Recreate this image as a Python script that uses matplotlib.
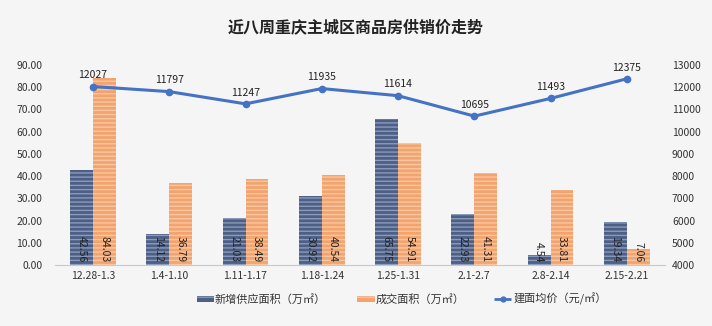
import matplotlib
matplotlib.use("Agg")
import matplotlib.pyplot as plt
import numpy as np
from matplotlib.lines import Line2D
from matplotlib.patches import Rectangle

plt.rcParams['font.family'] = ['Noto Sans CJK SC', 'DejaVu Sans']
plt.rcParams['hatch.linewidth'] = 1.0

categories = ["12.28-1.3", "1.4-1.10", "1.11-1.17", "1.18-1.24", "1.25-1.31", "2.1-2.7", "2.8-2.14", "2.15-2.21"]
supply = [42.56, 14.12, 21.03, 30.92, 65.75, 22.93, 4.54, 19.34]
deals = [84.03, 36.79, 38.49, 40.54, 54.91, 41.31, 33.81, 7.06]
price = [12027, 11797, 11247, 11935, 11614, 10695, 11493, 12375]
title = "近八周重庆主城区商品房供销价走势"
legend_labels = ["新增供应面积（万㎡）", "成交面积（万㎡）", "建面均价（元/㎡）"]

bg = "#f5f5f5"
blue = "#4d5f85"
blue_h = "#8a9bbb"
orange = "#f3a46e"
orange_h = "#f8c7a2"
line_c = "#4472c4"
W, H = 712, 326

fig = plt.figure(figsize=(7.12, 3.26), dpi=100, facecolor=bg)
ax = fig.add_axes([0.077, 0.187, 0.857, 0.614])
ax.set_facecolor(bg)

x = np.arange(len(categories))
w = 0.3
ax.bar(x - w/2, supply, w, color=blue, edgecolor=blue_h, linewidth=0, hatch='----')
ax.bar(x + w/2, deals, w, color=orange, edgecolor=orange_h, linewidth=0, hatch='----')

for xi, v in zip(x, supply):
    ax.text(xi - w/2, 1.2, f"{v:.2f}", rotation=270, ha='center', va='bottom', fontsize=7.5, color='#222222')
for xi, v in zip(x, deals):
    ax.text(xi + w/2, 1.2, f"{v:.2f}", rotation=270, ha='center', va='bottom', fontsize=7.5, color='#222222')

ax.set_xlim(-0.5, len(categories) - 0.5)
ax.set_ylim(0, 90)
ax.set_yticks(np.arange(0, 91, 10))
ax.set_yticklabels([f"{v:.2f}" for v in np.arange(0, 91, 10)])
ax.set_xticks(x)
ax.set_xticklabels(categories)
ax.tick_params(axis='both', length=0, labelsize=7.5, colors='#333333')
ax.tick_params(axis='y', pad=9)
ax.tick_params(axis='x', pad=4)
for s in ['top', 'right', 'left']:
    ax.spines[s].set_visible(False)
ax.spines['bottom'].set_color('#c8c8c8')

ax2 = ax.twinx()
ax2.plot(x, price, color=line_c, linewidth=2.2, marker='o', markersize=4.5, zorder=5)
ax2.set_ylim(4000, 13000)
ax2.set_yticks(np.arange(4000, 13001, 1000))
ax2.tick_params(axis='y', length=0, labelsize=7.5, colors='#333333', pad=5)
for s in ['top', 'right', 'left', 'bottom']:
    ax2.spines[s].set_visible(False)
for xi, v in zip(x, price):
    ax2.text(xi, v + 280, f"{v}", ha='center', va='bottom', fontsize=7.5, color='#222222')

fig.text(0.5, 0.915, title, ha='center', va='center', fontsize=11.5, fontweight='bold', color='#222222')

# manual legend
ly = 1 - 299 / H
ph = 6 / H
lfs = 8
fig.add_artist(Rectangle((197 / W, ly - ph / 2), 17 / W, ph, transform=fig.transFigure,
                         facecolor=blue, edgecolor=blue_h, hatch='---', linewidth=0))
fig.text(215 / W, ly, legend_labels[0], ha='left', va='center', fontsize=lfs, color='#333333')
fig.add_artist(Rectangle((357 / W, ly - ph / 2), 18 / W, ph, transform=fig.transFigure,
                         facecolor=orange, edgecolor=orange_h, hatch='---', linewidth=0))
fig.text(376 / W, ly, legend_labels[1], ha='left', va='center', fontsize=lfs, color='#333333')
fig.add_artist(Line2D([494 / W, 511 / W], [ly, ly], transform=fig.transFigure, color=line_c,
                      linewidth=2, solid_capstyle='butt'))
fig.add_artist(Line2D([502.5 / W], [ly], transform=fig.transFigure, color=line_c,
                      marker='o', markersize=3.5, linestyle='none'))
fig.text(514 / W, ly, legend_labels[2], ha='left', va='center', fontsize=lfs, color='#333333')

fig.savefig("out.png", dpi=100, facecolor=bg)
